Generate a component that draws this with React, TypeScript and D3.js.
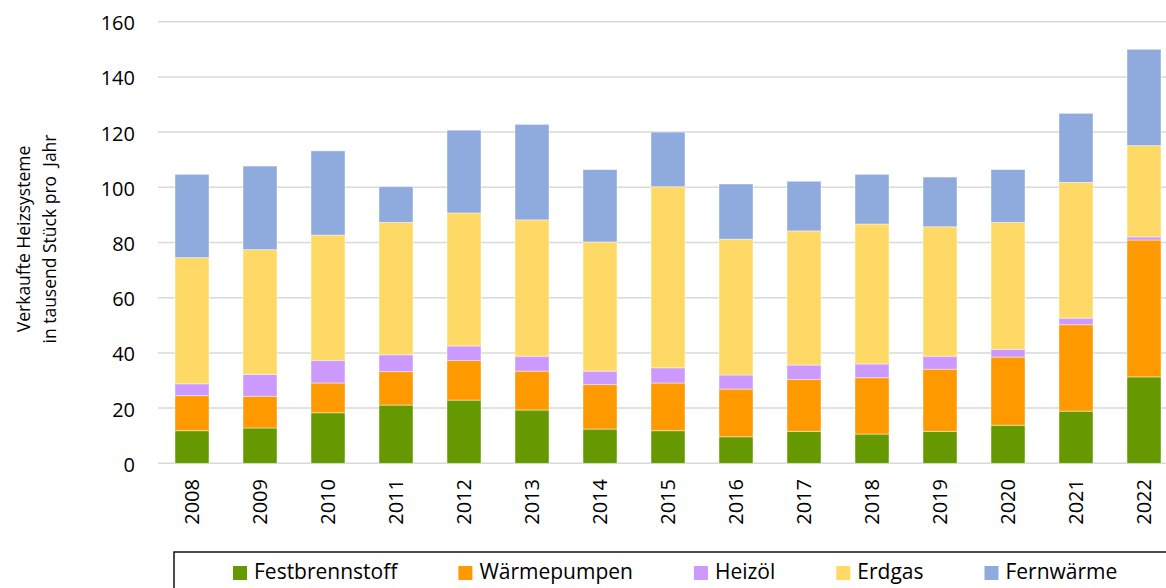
import { useEffect, useRef } from "react";
import * as d3 from "d3";

const years = ["2008", "2009", "2010", "2011", "2012", "2013", "2014", "2015", "2016", "2017", "2018", "2019", "2020", "2021", "2022"];
const festbrennstoff = [11.8, 12.8, 18.3, 21.1, 22.9, 19.3, 12.4, 11.8, 9.6, 11.6, 10.6, 11.6, 13.8, 18.9, 31.3];
const waermepumpen = [12.7, 11.5, 10.8, 12.1, 14.3, 14.1, 16.1, 17.3, 17.3, 18.8, 20.4, 22.5, 24.7, 31.3, 49.6];
const heizoel = [4.3, 7.9, 8.1, 6.1, 5.3, 5.4, 4.9, 5.5, 5.1, 5.2, 5.0, 4.7, 2.8, 2.4, 1.1];
const erdgas = [45.7, 45.2, 45.5, 48.0, 48.2, 49.4, 46.8, 65.6, 49.2, 48.6, 50.7, 46.9, 46.0, 49.2, 33.1];
const fernwaerme = [30.2, 30.3, 30.5, 12.9, 30.0, 34.6, 26.2, 19.8, 20.0, 18.0, 18.0, 18.0, 19.1, 25.0, 34.9];

const seriesNames = ["Festbrennstoff", "Wärmepumpen", "Heizöl", "Erdgas", "Fernwärme"];
const seriesColors = ["#669900", "#FF9900", "#CC99FF", "#FFD966", "#8FAADC"];
const yTicks = [0, 20, 40, 60, 80, 100, 120, 140, 160];

const FONT = "'Open Sans', sans-serif";

export default function App() {
  const svgRef = useRef<SVGSVGElement | null>(null);
  const width = 1166;
  const height = 588;

  useEffect(() => {
    const svg = d3.select(svgRef.current);
    svg.selectAll("*").remove();

    const values = [festbrennstoff, waermepumpen, heizoel, erdgas, fernwaerme];
    const rows = years.map((y, i) => {
      const r: any = { year: y };
      seriesNames.forEach((s, k) => (r[s] = values[k][i]));
      return r;
    });
    const stacked = d3.stack().keys(seriesNames)(rows);

    const x = d3.scaleBand().domain(years).range([158, 1178]).paddingInner(0.5).paddingOuter(0.25);
    const y = d3.scaleLinear().domain([0, 160]).range([463.3, 21.7]);
    const color = d3.scaleOrdinal<string, string>().domain(seriesNames).range(seriesColors);

    // gridlines
    svg.append("g")
      .selectAll("line")
      .data(yTicks)
      .join("line")
      .attr("x1", 158)
      .attr("x2", 1178)
      .attr("y1", (d) => y(d))
      .attr("y2", (d) => y(d))
      .attr("stroke", "#d9d9d9")
      .attr("stroke-width", 1.5);

    // y tick labels
    svg.append("g")
      .selectAll("text")
      .data(yTicks)
      .join("text")
      .attr("x", 135)
      .attr("y", (d) => y(d))
      .attr("dy", "0.42em")
      .attr("text-anchor", "end")
      .attr("font-family", FONT)
      .attr("font-size", 20)
      .attr("fill", "#000")
      .text((d) => d);

    // bars
    svg.append("g")
      .selectAll("g")
      .data(stacked)
      .join("g")
      .attr("fill", (d) => color(d.key))
      .selectAll("rect")
      .data((d) => d)
      .join("rect")
      .attr("x", (d: any) => x(d.data.year)!)
      .attr("width", x.bandwidth())
      .attr("y", (d) => y(d[1]))
      .attr("height", (d) => y(d[0]) - y(d[1]))
      .attr("stroke", "rgba(255,255,255,0.55)")
      .attr("stroke-width", 0.8);

    // x labels
    svg.append("g")
      .selectAll("text")
      .data(years)
      .join("text")
      .attr("transform", (d) => `translate(${x(d)! + x.bandwidth() / 2},479) rotate(-90)`)
      .attr("dy", "0.36em")
      .attr("text-anchor", "end")
      .attr("font-family", FONT)
      .attr("font-size", 20)
      .attr("fill", "#000")
      .text((d) => d);

    // y axis title
    const title = svg.append("text")
      .attr("transform", "translate(0,239) rotate(-90)")
      .attr("text-anchor", "middle")
      .attr("font-family", FONT)
      .attr("font-size", 17.5)
      .attr("fill", "#000");
    title.append("tspan").attr("x", 0).attr("y", 30).text("Verkaufte Heizsysteme");
    title.append("tspan").attr("x", 0).attr("y", 56).text("in tausend Stück pro\u00a0 Jahr");

    // legend
    svg.append("rect")
      .attr("x", 174)
      .attr("y", 552)
      .attr("width", 1100)
      .attr("height", 80)
      .attr("fill", "none")
      .attr("stroke", "#000")
      .attr("stroke-width", 1.4);

    const legend = svg.append("g");
    let cx = 233;
    seriesNames.forEach((s) => {
      const item = legend.append("g").attr("transform", `translate(${cx},0)`);
      item.append("rect")
        .attr("x", 0)
        .attr("y", 566)
        .attr("width", 14)
        .attr("height", 14)
        .attr("fill", color(s));
      const t = item.append("text")
        .attr("x", 21)
        .attr("y", 579)
        .attr("font-family", FONT)
        .attr("font-size", 21)
        .attr("fill", "#000")
        .text(s);
      const w = (t.node() as SVGTextElement).getComputedTextLength();
      cx += 21 + w + 61;
    });
  }, []);

  return (
    <svg
      ref={svgRef}
      width={width}
      height={height}
      style={{ position: "absolute", left: 0, top: 0, background: "#fff" }}
    />
  );
}
